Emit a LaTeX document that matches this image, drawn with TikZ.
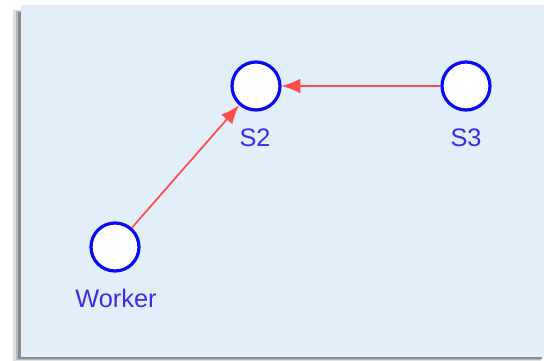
\documentclass[tikz,border=0pt]{standalone}
\usepackage{fontspec}
\setmainfont{Liberation Sans}
\usetikzlibrary{arrows.meta}

\definecolor{panelblue}{RGB}{226,238,250}
\definecolor{nodeblue}{RGB}{10,10,250}
\definecolor{labelblue}{RGB}{55,45,240}
\definecolor{edgered}{RGB}{255,75,75}

\tikzset{every picture/.style={line width=0.75pt}}
\tikzset{
  station/.style={circle, draw=nodeblue, fill=white, line width=2.4pt, minimum size=36pt, inner sep=0pt},
  stationlabel/.style={text=labelblue, font=\fontsize{19}{22}\selectfont, inner sep=0pt},
  flow/.style={draw=edgered, line width=1.3pt, -{Latex[length=14pt,width=11pt]}}
}

\begin{document}
\begin{tikzpicture}[x=0.75pt,y=0.75pt,yscale=-1,xscale=1]
			\useasboundingbox (0,0) rectangle (544,361);

			%Shape: Shadow
			\fill [black!12] (13,10) rectangle (541,361);
			\fill [black!28] (16,11) rectangle (541,360);
			\fill [black!45] (18,12) rectangle (542,359);
			%Shape: Rectangle
			\fill [panelblue] (21,5) rectangle (544,357);

			%Shape: Circle
			\node [station] (s2) at (256,86) {};
			%Shape: Circle
			\node [station] (s3) at (466,86) {};
			%Shape: Circle
			\node [station] (worker) at (115,247) {};

			% Text Node
			\node [stationlabel] (s2label) at (255,138) {S2};
			% Text Node
			\node [stationlabel] (s3label) at (466,138) {S3};
			% Text Node
			\node [stationlabel] (workerlabel) at (116,298) {Worker};

			%Straight Lines
			\draw [flow] (s3) -- (s2);
			\draw [flow] (worker) -- (s2);

\end{tikzpicture}
\end{document}
